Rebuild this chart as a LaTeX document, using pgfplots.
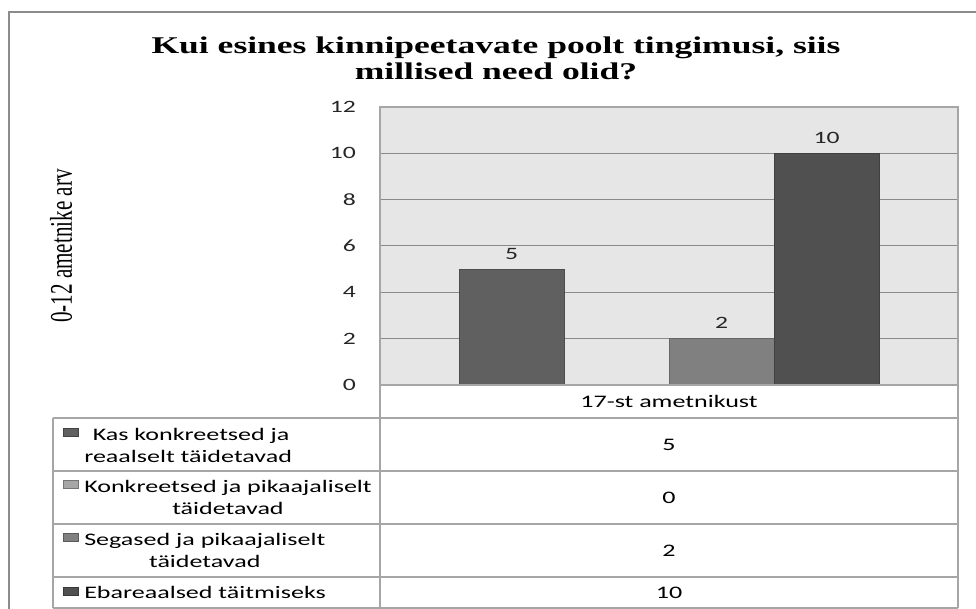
\documentclass[border=0pt]{standalone}
\usepackage{fontspec}
\usepackage{pgfplots}
\pgfplotsset{compat=1.18}
\setmainfont[FakeStretch=1.48]{Carlito}
\newfontfamily\titlefont[FakeStretch=1.48]{Liberation Serif}
\newfontfamily\ylabfont[FakeStretch=0.67]{Liberation Serif}

\definecolor{cA}{HTML}{606060}
\definecolor{cB}{HTML}{A6A6A6}
\definecolor{cC}{HTML}{808080}
\definecolor{cD}{HTML}{505050}
\definecolor{bg}{HTML}{E6E6E6}
\definecolor{gridc}{HTML}{8A8A8A}
\definecolor{framec}{HTML}{A6A6A6}
\definecolor{outerc}{HTML}{8C8C8C}

\begin{document}
\begin{tikzpicture}[x=0.75pt,y=-0.75pt]
\useasboundingbox (0,0) rectangle (976,609);
\draw[outerc, line width=1.5pt] (9,609) -- (9,12) -- (976,12);

% title and y label
\node[font=\titlefont\bfseries\fontsize{18pt}{19.5pt}\selectfont, align=center]
  at (496,58) {Kui esines kinnipeetavate poolt tingimusi, siis\\millised need olid?};
\node[rotate=90, font=\ylabfont\fontsize{23.6pt}{28pt}\selectfont] at (61,246) {0-12 ametnike arv};

\begin{axis}[
    at={(285pt,-288.75pt)}, anchor=south west,
    scale only axis, width=433.5pt, height=208.5pt,
    ybar=0pt, bar width=78.75pt,
    xmin=-0.5, xmax=0.5, ymin=0, ymax=12,
    xtick=\empty, ytick={0,2,4,6,8,10,12},
    /pgf/number format/assume math mode=true,
    ymajorgrids, major grid style={gridc, line width=0.75pt},
    axis background/.style={fill=bg},
    axis line style={framec, line width=0.8pt},
    major tick length=0pt,
    yticklabel style={font=\fontsize{13pt}{15pt}\selectfont, text=black!85, xshift=-14.5pt},
    every node near coord/.append style={font=\fontsize{13pt}{15pt}\selectfont, text=black!85, yshift=4pt},
    clip=false,
  ]
  \addplot[fill=cA, draw=cA!80!black, nodes near coords] coordinates {(0,5)};
  \addplot[fill=cB, draw=none] coordinates {(0,0)};
  \addplot[fill=cC, draw=cC!80!black, nodes near coords] coordinates {(0,2)};
  \addplot[fill=cD, draw=cD!80!black, nodes near coords] coordinates {(0,10)};
\end{axis}

% data table
\begin{scope}[framec, line width=1.1pt]
  \draw (380,385) -- (958,385);
  \foreach \yy in {418,471,524,577,608} \draw (53,\yy) -- (958,\yy);
  \draw (53,418) -- (53,608);
  \draw (380,385) -- (380,608);
  \draw (958,385) -- (958,608);
\end{scope}

\begin{scope}[font=\fontsize{13.2pt}{16pt}\selectfont, text=black]
  \node at (669,401.5) {17-st ametnikust};
  \node at (669,444.5) {5};
  \node at (669,497.5) {0};
  \node at (669,550.5) {2};
  \node at (669,592.5) {10};
  \node[anchor=west, align=center, inner sep=0pt] at (84,445.5) {\ Kas konkreetsed ja\\reaalselt täidetavad};
  \node[anchor=west, align=center, inner sep=0pt] at (84,497.5) {Konkreetsed ja pikaajaliselt\\täidetavad};
  \node[anchor=west, align=center, inner sep=0pt] at (84,550.5) {Segased ja pikaajaliselt\\täidetavad};
  \node[anchor=west, align=center, inner sep=0pt] at (84,592.5) {Ebareaalsed täitmiseks};
\end{scope}
\draw[fill=cA, draw=cA!70!black, line width=0.5pt] (63,428) rectangle (78,436.5);
\draw[fill=cB, draw=cB!70!black, line width=0.5pt] (63,480) rectangle (78,488.5);
\draw[fill=cC, draw=cC!70!black, line width=0.5pt] (63,533) rectangle (78,541.5);
\draw[fill=cD, draw=cD!70!black, line width=0.5pt] (63,587) rectangle (78,595.5);
\end{tikzpicture}
\end{document}
